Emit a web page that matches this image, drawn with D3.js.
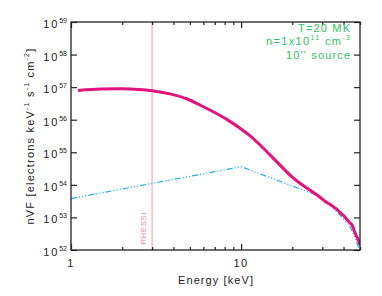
<!DOCTYPE html>
<html>
<head>
<meta charset="utf-8">
<script src="https://cdn.jsdelivr.net/npm/d3@7"></script>
<style>
  body { margin: 0; background: #fff; }
  svg { display: block; font-family: "Liberation Sans", Helvetica, Arial, sans-serif; }
</style>
</head>
<body>
<svg id="chart" width="382" height="296"></svg>
<script>
// thermal spectrum (magenta)
var thermE = [1.1, 1.5, 2, 2.5, 3, 3.82, 4.78, 6.0, 7.53, 8.6, 10, 11.3, 12.9, 14.8, 16.9, 19.4, 22.3, 25.5, 29.2, 31, 33.4, 35, 36.5, 38.2, 40, 41, 42, 43.7, 45, 46.6, 48.5, 50];
var thermF = [7.9e56, 8.7e56, 8.9e56, 8.5e56, 7.8e56, 6.2e56, 4.4e56, 2.5e56, 1.35e56, 8.9e55, 5.2e55, 3.2e55, 1.7e55, 8.3e54, 4.1e54, 2.0e54, 1.1e54, 6.8e53, 4.1e53, 3.2e53, 2.5e53, 2.1e53, 1.8e53, 1.4e53, 1.15e53, 1.0e53, 8.5e52, 6.8e52, 5.8e52, 3.5e52, 2.2e52, 1.4e52];

// broken power law (blue dash-dot)
var plE = [1, 10, 29.2, 38.2, 43.7, 46.6, 49.5];
var plF = [3.8e53, 3.6e54, 4.4e53, 1.2e53, 5.2e52, 2.6e52, 1.0e52];

var yDecades = [52, 53, 54, 55, 56, 57, 58, 59];
var xMajor = [1, 10];
var xMinor = [2, 3, 4, 5, 6, 7, 8, 9, 20, 30, 40, 50];
var rhessiE = 3;
var legendLines = ["T=20 MK", "n=1x10|11| cm|-3", "10'' source"];

var margin = { left: 71, right: 22, top: 22, bottom: 46 };
var svg = d3.select("#chart"),
  width = +svg.attr("width"),
  height = +svg.attr("height");
var x0 = margin.left, x1 = width - margin.right,
  y0 = margin.top, y1 = height - margin.bottom;

var x = d3.scaleLog().domain([1, 50]).range([x0, x1]);
var y = d3.scaleLog().domain([1e52, 1e59]).range([y1, y0]);

svg.append("defs").append("clipPath").attr("id", "clip")
  .append("rect").attr("x", x0).attr("y", y0).attr("width", x1 - x0).attr("height", y1 - y0);

var plot = svg.append("g").attr("clip-path", "url(#clip)");

// RHESSI threshold
plot.append("line")
  .attr("x1", x(rhessiE)).attr("x2", x(rhessiE))
  .attr("y1", y0).attr("y2", y1)
  .attr("stroke", "#f9bcc4").attr("stroke-width", 1.5);

svg.append("text")
  .attr("transform", "translate(" + (x(rhessiE) - 6) + "," + 228 + ") rotate(-90)")
  .attr("text-anchor", "middle")
  .attr("font-size", 7.5)
  .attr("letter-spacing", 0.8)
  .attr("fill", "#f08a98")
  .text("RHESSI");

// power law
var plLine = d3.line()
  .x(function (d, i) { return x(plE[i]); })
  .y(function (d) { return y(d); });
plot.append("path")
  .attr("d", plLine(plF))
  .attr("fill", "none")
  .attr("stroke", "#1cb0ea")
  .attr("stroke-width", 1.2)
  .attr("stroke-dasharray", "6,2,1.2,2,1.2,2,1.2,2");

// thermal
var thLine = d3.line()
  .curve(d3.curveCatmullRom.alpha(0.5))
  .x(function (d, i) { return x(thermE[i]); })
  .y(function (d) { return y(d); });
plot.append("path")
  .attr("d", thLine(thermF))
  .attr("fill", "none")
  .attr("stroke", "#e3127f")
  .attr("stroke-width", 3);

// axes
var axisColor = "#222";
function styleAxis(g) {
  g.select(".domain").remove();
  g.selectAll("line").attr("stroke", axisColor).attr("stroke-width", 1.2);
}
var yTicks = yDecades.map(function (d) { return Math.pow(10, d); });
svg.append("g").attr("transform", "translate(" + x0 + ",0)")
  .call(d3.axisLeft(y).tickValues(yTicks).tickFormat("").tickSizeInner(-6).tickSizeOuter(0))
  .call(styleAxis);
svg.append("g").attr("transform", "translate(" + x1 + ",0)")
  .call(d3.axisRight(y).tickValues(yTicks).tickFormat("").tickSizeInner(-6).tickSizeOuter(0))
  .call(styleAxis);
[["bottom", y1], ["top", y0]].forEach(function (s) {
  var mk = s[0] === "bottom" ? d3.axisBottom : d3.axisTop;
  svg.append("g").attr("transform", "translate(0," + s[1] + ")")
    .call(mk(x).tickValues(xMajor).tickFormat("").tickSizeInner(-6).tickSizeOuter(0))
    .call(styleAxis);
  svg.append("g").attr("transform", "translate(0," + s[1] + ")")
    .call(mk(x).tickValues(xMinor).tickFormat("").tickSizeInner(-3).tickSizeOuter(0))
    .call(styleAxis);
});
svg.append("rect")
  .attr("x", x0).attr("y", y0).attr("width", x1 - x0).attr("height", y1 - y0)
  .attr("fill", "none").attr("stroke", axisColor).attr("stroke-width", 1.3);

// y tick labels 10^n
yDecades.forEach(function (d) {
  var t = svg.append("text")
    .attr("x", x0 - 4)
    .attr("y", y(Math.pow(10, d)) + 6)
    .attr("text-anchor", "end")
    .attr("fill", axisColor);
  t.append("tspan").attr("font-size", 11).attr("letter-spacing", 1.8).text("10");
  t.append("tspan").attr("font-size", 7).attr("dy", -5).text(d);
});

// x tick labels
xMajor.forEach(function (d) {
  svg.append("text")
    .attr("x", x(d)).attr("y", y1 + 17)
    .attr("text-anchor", "middle")
    .attr("font-size", 11)
    .attr("letter-spacing", 1.5)
    .attr("fill", axisColor)
    .text(d);
});

// axis titles
svg.append("text")
  .attr("x", (x0 + x1) / 2).attr("y", y1 + 34)
  .attr("text-anchor", "middle")
  .attr("font-size", 11)
  .attr("textLength", 75)
  .attr("fill", axisColor)
  .text("Energy [keV]");

var yt = svg.append("text")
  .attr("transform", "translate(34," + 136 + ") rotate(-90)")
  .attr("text-anchor", "middle")
  .attr("font-size", 11)
  .attr("fill", axisColor);
[["nVF [electrons keV", 0], ["-1", 1], [" s", 0], ["-1", 1], [" cm", 0], ["-2", 1], ["]", 0]].forEach(function (p, i, arr) {
  var prevSup = i > 0 && arr[i - 1][1];
  var ts = yt.append("tspan").text(p[0]).attr("letter-spacing", 1.2);
  if (p[1]) ts.attr("font-size", 7).attr("dy", -5);
  else if (prevSup) ts.attr("dy", 5);
});

// legend, right aligned, split on | for superscripts
var legendLen = [52, 84, 64];
legendLines.forEach(function (s, i) {
  var t = svg.append("text")
    .attr("x", 350).attr("y", 31.5 + i * 13.7)
    .attr("text-anchor", "end")
    .attr("fill", "#2fbf62")
    .attr("font-size", 11)
    .attr("textLength", legendLen[i]);
  s.split("|").forEach(function (part, j) {
    var ts = t.append("tspan").text(part);
    if (j % 2 === 1) ts.attr("font-size", 7).attr("dy", -5);
    else if (j > 0) ts.attr("dy", 5);
  });
});
</script>
</body>
</html>
